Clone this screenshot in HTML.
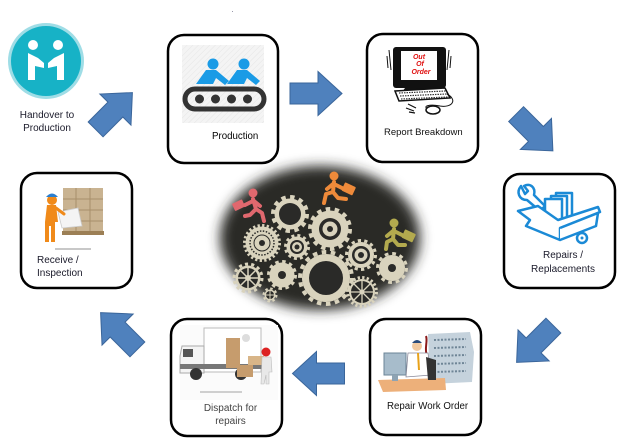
<!DOCTYPE html>
<html><head><meta charset="utf-8"><style>
html,body{margin:0;padding:0;background:#fff;}
svg{display:block;}
text{font-family:"Liberation Sans",sans-serif;}
</style></head><body>
<svg width="638" height="442" viewBox="0 0 638 442" xmlns="http://www.w3.org/2000/svg">
<defs>
<filter id="blur" x="-20%" y="-20%" width="140%" height="140%"><feGaussianBlur stdDeviation="6"/></filter>
<path id="arr" d="M-26,-10.5 L2,-10.5 L2,-22 L26,0 L2,22 L2,10.5 L-26,10.5 Z" fill="#4f81bd" stroke="#3a659a" stroke-width="1"/>
<pattern id="hatch" width="4" height="4" patternUnits="userSpaceOnUse" patternTransform="rotate(45)"><rect width="4" height="4" fill="#f4f4f4"/><line x1="0" y1="0" x2="0" y2="4" stroke="#e6e6e6" stroke-width="1"/></pattern>
</defs>

<rect x="232" y="11" width="1" height="1" fill="#99a"/>

<!-- Handover circle -->
<circle cx="46" cy="61" r="38" fill="#9fdde6"/>
<circle cx="46" cy="61" r="35" fill="#17b2c6"/>
<circle cx="33" cy="45" r="5" fill="#fff"/>
<circle cx="58" cy="45" r="5" fill="#fff"/>
<path d="M28,53 L28,80 L35,80 L35,66 L44,68 L44,63 L38,58 Z" fill="#fff"/>
<path d="M64,53 L64,80 L57,80 L57,66 L48,68 L48,63 L54,58 Z" fill="#fff"/>
<text x="47" y="118" font-size="10" text-anchor="middle" fill="#1a1a2a">Handover to</text>
<text x="47" y="131" font-size="10" text-anchor="middle" fill="#1a1a2a">Production</text>

<!-- Arrows -->
<use href="#arr" transform="translate(114,111) rotate(-45)"/>
<use href="#arr" transform="translate(316,93.5)"/>
<use href="#arr" transform="translate(534.5,132.5) rotate(45)"/>
<use href="#arr" transform="translate(535,344) rotate(135)"/>
<use href="#arr" transform="translate(318.5,373.5) rotate(180)"/>
<use href="#arr" transform="translate(119,331) rotate(-135)"/>

<!-- Boxes -->
<rect x="168" y="35" width="110" height="128" rx="16" fill="#fff" stroke="#000" stroke-width="2.5"/>
<rect x="367" y="34" width="111" height="128" rx="16" fill="#fff" stroke="#000" stroke-width="2.5"/>
<rect x="21" y="173" width="111" height="115" rx="16" fill="#fff" stroke="#000" stroke-width="2.5"/>
<rect x="504" y="174" width="111" height="114" rx="16" fill="#fff" stroke="#000" stroke-width="2.5"/>
<rect x="171" y="319" width="111" height="117" rx="16" fill="#fff" stroke="#000" stroke-width="2.5"/>
<rect x="370" y="319" width="111" height="116" rx="16" fill="#fff" stroke="#000" stroke-width="2.5"/>

<!-- Production icon -->
<rect x="182" y="45" width="82" height="78" fill="url(#hatch)"/>
<circle cx="213" cy="64" r="5.5" fill="#1a9be6"/>
<circle cx="244" cy="64" r="5.5" fill="#1a9be6"/>
<path d="M206,70 L196,84 L213,84 L216,78 L225,85 L229,81 L216,70 Z" fill="#1a9be6"/>
<path d="M237,70 L227,84 L244,84 L247,78 L256,85 L260,81 L247,70 Z" fill="#1a9be6"/>
<rect x="185" y="89" width="79" height="20" rx="10" fill="none" stroke="#333" stroke-width="5"/>
<circle cx="199.5" cy="99" r="4.5" fill="#333"/>
<circle cx="215.5" cy="99" r="4.5" fill="#333"/>
<circle cx="231.5" cy="99" r="4.5" fill="#333"/>
<circle cx="247.5" cy="99" r="4.5" fill="#333"/>
<text x="212" y="139" font-size="9.7" fill="#000">Production</text>

<!-- Report Breakdown icon -->
<path d="M389,50 L391,70 M387,56 L388,68 M449,50 L447,70 M451,56 L450,68" stroke="#111" stroke-width="1"/>
<rect x="393" y="47" width="53" height="41" rx="3" fill="#111"/>
<rect x="401" y="51" width="36" height="29" fill="#fff"/>
<text x="419" y="59" font-size="7" font-style="italic" font-weight="bold" fill="#e01010" text-anchor="middle">Out</text>
<text x="420" y="66" font-size="7" font-style="italic" font-weight="bold" fill="#e01010" text-anchor="middle">Of</text>
<text x="421" y="74" font-size="7" font-style="italic" font-weight="bold" fill="#e01010" text-anchor="middle">Order</text>
<path d="M405,88 L435,88 L438,92 L402,92 Z" fill="#111"/>
<path d="M395,91 L445,88 L450,98 L399,101 Z" fill="#fff" stroke="#111" stroke-width="1.5"/>
<path d="M399,93 L446,91 M400,96 L447,94 M401,99 L448,97" stroke="#333" stroke-width="1.2" stroke-dasharray="1.5 1"/>
<path d="M447,94 C458,100 452,108 440,106 C430,104 420,106 430,110" fill="none" stroke="#111" stroke-width="1"/>
<ellipse cx="433" cy="110" rx="7" ry="4" fill="#fff" stroke="#111" stroke-width="1.5"/>
<path d="M408,104 L416,108 M406,108 L414,111 M409,112 L415,113" stroke="#111" stroke-width="1.2"/>
<text x="384" y="135" font-size="9.5" fill="#111">Report Breakdown</text>

<!-- Receive / Inspection icon -->
<rect x="63" y="188" width="40" height="44" fill="#c9b391"/>
<path d="M63,199 L103,199 M63,210 L103,210 M63,221 L103,221 M76,188 L76,232 M90,188 L90,232" stroke="#a88f6a" stroke-width="1"/>
<rect x="62" y="231" width="42" height="4" fill="#9c7f55"/>
<path d="M58,212 L78,208 L82,226 L62,228 Z" fill="#f4f4f4" stroke="#ccc" stroke-width="0.8"/>
<circle cx="52" cy="200" r="5" fill="#f08a1a"/>
<path d="M46,197 Q52,190 58,197 Z" fill="#2b7fd0"/>
<path d="M47,205 L56,205 L58,222 L55,222 L55,242 L51,242 L51,226 L49,226 L49,242 L45,242 L45,222 Z" fill="#f08a1a"/>
<path d="M56,208 L64,214" stroke="#f08a1a" stroke-width="3" stroke-linecap="round"/>
<rect x="55" y="248" width="36" height="2" fill="#c8c8c8"/>
<text x="37" y="263" font-size="10" fill="#1a1a2a">Receive /</text>
<text x="37" y="276" font-size="10" fill="#1a1a2a">Inspection</text>

<!-- Repairs icon -->
<g fill="none" stroke="#1b8ad6" stroke-width="2.5" stroke-linejoin="round">
<path d="M521,186 C516,192 519,200 527,200 L540,211 L545,206 L534,195 C536,187 530,183 524,186 L528,191 L525,194 Z" fill="#fff"/>
<rect x="556" y="193" width="16" height="28" fill="#fff"/>
<rect x="551" y="196" width="16" height="28" fill="#fff"/>
<rect x="545" y="199" width="17" height="28" fill="#fff"/>
<path d="M518,211 L538,206 L558,220 L598,207 L600,212 L560,228 L560,240 L526,226 L530,220 Z" fill="#fff"/>
<path d="M560,228 L598,213 L596,226 L560,240" fill="#fff"/>
<circle cx="582" cy="238" r="5" fill="#fff"/>
</g>
<circle cx="582" cy="238" r="1.5" fill="#1b8ad6"/>
<text x="563" y="258" font-size="10" fill="#1a1a2a" text-anchor="middle">Repairs /</text>
<text x="563" y="272" font-size="10" fill="#1a1a2a" text-anchor="middle">Replacements</text>

<!-- Dispatch icon -->
<rect x="180" y="325" width="98" height="75" fill="#fbfbfb"/>
<rect x="204" y="328" width="57" height="44" fill="#fff" stroke="#bbb" stroke-width="1"/>
<path d="M182,346 L204,346 L204,373 L180,373 L180,356 Z" fill="#f4f4f4" stroke="#aaa" stroke-width="1"/>
<rect x="183" y="349" width="10" height="8" fill="#555"/>
<rect x="180" y="364" width="82" height="5" fill="#777"/>
<circle cx="196" cy="374" r="6" fill="#333"/>
<circle cx="241" cy="374" r="6" fill="#333"/>
<rect x="226" y="338" width="14" height="30" fill="#c69c6d"/>
<rect x="237" y="365" width="16" height="12" fill="#c69c6d"/>
<rect x="248" y="356" width="16" height="9" fill="#d8b588"/>
<circle cx="266" cy="352" r="4.5" fill="#d22"/>
<path d="M262,357 L271,357 L272,372 L269,372 L269,384 L266,384 L266,375 L264,384 L261,384 Z" fill="#e8e8e8" stroke="#bbb" stroke-width="0.6"/>
<circle cx="246" cy="338" r="4" fill="#ddd"/>
<rect x="200" y="391" width="42" height="2" fill="#cfcfcf"/>
<text x="230.5" y="411" font-size="10" fill="#444" text-anchor="middle">Dispatch for</text>
<text x="230.5" y="424" font-size="10" fill="#444" text-anchor="middle">repairs</text>

<!-- Repair Work Order icon -->
<path d="M428,334 L470,332 L474,352 L472,382 L430,384 Z" fill="#c5d2dc"/>
<path d="M434,340 L466,339 M434,348 L466,347 M434,356 L466,355 M434,364 L466,363 M434,372 L466,371" stroke="#6f8596" stroke-width="2" stroke-dasharray="2 1.5"/>
<path d="M426,336 C428,342 424,348 427,356" stroke="#8b1a1a" stroke-width="2" fill="none"/>
<path d="M378,380 L445,378 L446,390 L383,392 Z" fill="#edb07a"/>
<rect x="384" y="353" width="22" height="22" fill="#a7bccb" stroke="#6b8497" stroke-width="1"/>
<rect x="392" y="375" width="6" height="6" fill="#8ea3b3"/>
<circle cx="417" cy="346" r="5" fill="#f1c9a0"/>
<path d="M412,343 Q417,337 422,343 Z" fill="#2a4b7a"/>
<path d="M408,353 L428,353 L431,375 L406,377 Z" fill="#fff" stroke="#889" stroke-width="0.8"/>
<path d="M418,353 L419,370" stroke="#e8a21a" stroke-width="2"/>
<path d="M426,357 L436,360 L436,380 L428,380 Z" fill="#333"/>
<text x="387" y="409" font-size="9.7" fill="#111">Repair Work Order</text>

<!-- Central ellipse -->
<ellipse cx="320" cy="238" rx="100" ry="72" fill="#2a2a28" filter="url(#blur)"/>

<g fill="#d9d3bd">
<circle cx="290" cy="214" r="17" fill="none" stroke="#d9d3bd" stroke-width="4" stroke-dasharray="4.45 4.45"/>
<circle cx="290" cy="214" r="15.5"/><circle cx="290" cy="214" r="11" fill="#2a2a28"/>
<circle cx="330" cy="229" r="20" fill="none" stroke="#d9d3bd" stroke-width="4" stroke-dasharray="4.49 4.49"/>
<circle cx="330" cy="229" r="18.5"/><circle cx="330" cy="229" r="11" fill="#2a2a28"/><circle cx="330" cy="229" r="7.5"/><circle cx="330" cy="229" r="3" fill="#2a2a28"/>
<circle cx="262" cy="243" r="17.5" fill="none" stroke="#d9d3bd" stroke-width="3" stroke-dasharray="2.29 2.29"/>
<circle cx="262" cy="243" r="16.5"/><circle cx="262" cy="243" r="12" fill="none" stroke="#2a2a28" stroke-width="1.5" stroke-dasharray="1.5 1.5"/><circle cx="262" cy="243" r="8" fill="none" stroke="#2a2a28" stroke-width="1"/><circle cx="262" cy="243" r="3" fill="#2a2a28"/>
<circle cx="297" cy="247" r="11.5" fill="none" stroke="#d9d3bd" stroke-width="3" stroke-dasharray="3 3.02"/>
<circle cx="297" cy="247" r="10.5"/><circle cx="297" cy="247" r="7" fill="#2a2a28"/><circle cx="297" cy="247" r="5"/><circle cx="297" cy="247" r="2.5" fill="#2a2a28"/>
<circle cx="361" cy="255" r="14.5" fill="none" stroke="#d9d3bd" stroke-width="3" stroke-dasharray="3.25 3.25"/>
<circle cx="361" cy="255" r="13"/><circle cx="361" cy="255" r="9" fill="#2a2a28"/><circle cx="361" cy="255" r="6.5"/><circle cx="361" cy="255" r="3" fill="#2a2a28"/>
<circle cx="392" cy="268" r="14.5" fill="none" stroke="#d9d3bd" stroke-width="3" stroke-dasharray="3.8 3.8"/>
<circle cx="392" cy="268" r="13"/><circle cx="392" cy="268" r="4" fill="#2a2a28"/>
<circle cx="326" cy="278" r="26" fill="none" stroke="#d9d3bd" stroke-width="4" stroke-dasharray="4.54 4.54"/>
<circle cx="326" cy="278" r="24"/><circle cx="326" cy="278" r="17" fill="#2a2a28"/>
<circle cx="248" cy="278" r="14" fill="none" stroke="#d9d3bd" stroke-width="3" stroke-dasharray="3.14 3.14"/>
<circle cx="248" cy="278" r="12.5"/><circle cx="248" cy="278" r="10" fill="#2a2a28"/>
<path d="M238,278 L258,278 M248,268 L248,288 M241,271 L255,285 M255,271 L241,285" stroke="#d9d3bd" stroke-width="1.5"/>
<circle cx="248" cy="278" r="3"/>
<circle cx="282" cy="275" r="13.5" fill="none" stroke="#d9d3bd" stroke-width="3" stroke-dasharray="3.53 3.53"/>
<circle cx="282" cy="275" r="12.5"/><circle cx="282" cy="275" r="4" fill="#2a2a28"/>
<circle cx="362" cy="292" r="14.5" fill="none" stroke="#d9d3bd" stroke-width="3" stroke-dasharray="2.28 2.28"/>
<circle cx="362" cy="292" r="13"/><circle cx="362" cy="292" r="11" fill="#2a2a28"/>
<path d="M351,292 L373,292 M362,281 L362,303 M354,284 L370,300 M370,284 L354,300" stroke="#d9d3bd" stroke-width="1.3"/>
<circle cx="362" cy="292" r="2.5"/>
<circle cx="270" cy="295" r="6.5" fill="none" stroke="#d9d3bd" stroke-width="2" stroke-dasharray="2.55 2.55"/>
<circle cx="270" cy="295" r="5.5"/><circle cx="270" cy="295" r="4" fill="#2a2a28"/>
<path d="M266,295 L274,295 M270,291 L270,299" stroke="#d9d3bd" stroke-width="1"/>
</g>

<!-- Runners -->
<g transform="translate(253,193)" fill="#e0686e" stroke="#e0686e">
<circle cx="0" cy="0" r="4.5" stroke="none"/>
<path d="M0,6 L3,16 L9,20 L11,28 M3,16 L-3,22 L-8,23 M1,8 L7,13 M0,8 L-8,12" fill="none" stroke-width="4" stroke-linecap="round" stroke-linejoin="round"/>
<rect x="-20" y="8" width="11" height="8" rx="1" transform="rotate(-25 -14 12)" stroke="none"/>
</g>
<g transform="translate(334,176) scale(-1,1)" fill="#ee8a3a" stroke="#ee8a3a">
<circle cx="0" cy="0" r="4.5" stroke="none"/>
<path d="M0,6 L1,16 L8,18 L10,27 M1,16 L-4,22 L-12,23 M1,8 L7,13 M0,8 L-8,12" fill="none" stroke-width="4" stroke-linecap="round" stroke-linejoin="round"/>
<rect x="-21" y="8" width="12" height="9" rx="1" transform="rotate(-25 -14 12)" stroke="none"/>
</g>
<g transform="translate(394,223) scale(-1,1)" fill="#b3aa4e" stroke="#b3aa4e">
<circle cx="0" cy="0" r="4.5" stroke="none"/>
<path d="M0,6 L1,16 L7,19 L8,26 M1,16 L-4,22 L-11,22 M1,8 L7,13 M0,8 L-8,12" fill="none" stroke-width="4" stroke-linecap="round" stroke-linejoin="round"/>
<rect x="-21" y="8" width="12" height="9" rx="1" transform="rotate(-25 -14 12)" stroke="none"/>
</g>
</svg>
</body></html>
